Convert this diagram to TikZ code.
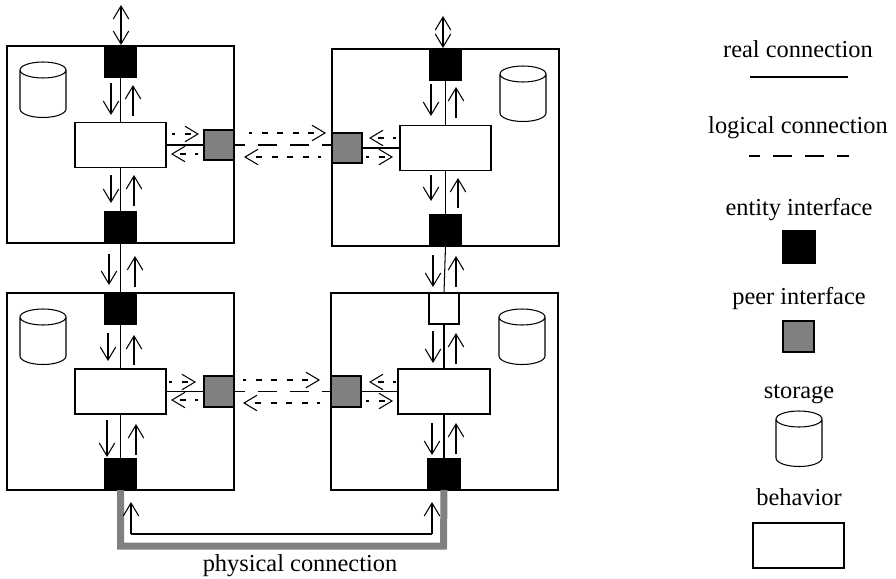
\documentclass[tikz,border=0pt]{standalone}
\usepackage{fontspec}
\setmainfont{Liberation Serif}
\usetikzlibrary{arrows.meta}
\tikzset{
  x=1pt,y=-1pt,
  real/.style={line width=1.05pt,draw=black},
  logical/.style={line width=1.05pt,draw=black,dash pattern=on 19pt off 13pt,dash phase=8pt},
  tipV/.tip={Straight Barb[length=13pt,width=15.5pt,line width=1.05pt]},
  sig/.style={line width=1.05pt,-tipV},
  dsig/.style={line width=1.05pt,tipV-tipV},
  psig/.style={line width=1.05pt,-tipV,dash pattern=on 6pt off 9.5pt,dash phase=3pt},
  boxbase/.style={rectangle,inner sep=0pt,outer sep=0pt,line width=1.05pt,draw=black},
  entitybox/.style={boxbase,fill=black},
  peerbox/.style={boxbase,fill=gray},
  whitebox/.style={boxbase,fill=white},
  framebox/.style={boxbase,fill=white},
  phys/.style={line width=7pt,draw=gray,line join=miter},
  lbl/.style={font=\fontsize{24.4pt}{28pt}\selectfont,inner sep=0pt,anchor=base},
}
% name, x1, y1, x2, y2, style
\newcommand{\bx}[6]{%
  \pgfmathsetmacro{\bxw}{#4-#2}\pgfmathsetmacro{\bxh}{#5-#3}%
  \pgfmathsetmacro{\bxcx}{(#2+#4)/2}\pgfmathsetmacro{\bxcy}{(#3+#5)/2}%
  \node[#6,minimum width=\bxw pt,minimum height=\bxh pt] (#1) at (\bxcx,\bxcy) {};}
% name, x1, y1, x2, y2, style
\newcommand{\arw}[6]{%
  \coordinate (#1s) at (#2,#3);\coordinate (#1e) at (#4,#5);
  \draw[#6] (#1s) -- (#1e);}
% storage: left x, top y of ellipse
\newcommand{\stor}[2]{%
  \pgfmathsetmacro{\sr}{#1+46}\pgfmathsetmacro{\sc}{#2+8}\pgfmathsetmacro{\sb}{#2+47}%
  \draw[line width=1.05pt] (#1,\sc) arc[start angle=180,end angle=-180,x radius=23pt,y radius=8pt]
    (#1,\sc) -- (#1,\sb) arc[start angle=180,end angle=360,x radius=23pt,y radius=8.5pt] -- (\sr,\sc);}
\begin{document}
\begin{tikzpicture}
\useasboundingbox (0,0) rectangle (896,578);
% entity frames
\bx{tlf}{7}{46}{234}{243}{framebox}
\bx{trf}{332}{49}{559}{246}{framebox}
\bx{blf}{7}{293}{234}{490}{framebox}
\bx{brf}{331}{293}{558}{490}{framebox}
% storage
\stor{20}{62}\stor{500}{66}\stor{20}{309}\stor{499}{309}
% interfaces and behaviours
\bx{tle1}{105}{46}{136}{77}{entitybox}
\bx{tle2}{105}{212}{136}{243}{entitybox}
\bx{tlb}{75}{122.5}{166}{167.5}{whitebox}
\bx{tlp}{204}{130}{234}{160}{peerbox}
\bx{tre1}{430}{49}{461}{80}{entitybox}
\bx{tre2}{430}{215}{461}{246}{entitybox}
\bx{trb}{400}{125.5}{491}{170.5}{whitebox}
\bx{trp}{332}{133}{362}{163}{peerbox}
\bx{ble1}{105}{293}{136}{324}{entitybox}
\bx{ble2}{105}{459}{136}{490}{entitybox}
\bx{blb}{75}{369}{166}{414}{whitebox}
\bx{blp}{204}{376}{234}{407}{peerbox}
\bx{bri}{429}{293}{459}{324}{whitebox}
\bx{bre2}{428}{459}{460}{490}{entitybox}
\bx{brb}{398}{369}{490}{414}{whitebox}
\bx{brp}{331}{376}{361}{407}{peerbox}
% real connections
\draw[real] (tle1.south) -- (tlb.north);
\draw[real] (tlb.south) -- (tle2.north);
\draw[real] (tlb.east) -- (tlp.west);
\draw[real] (tre1.south) -- (trb.north);
\draw[real] (trb.south) -- (tre2.north);
\draw[real] (trb.west) -- (trp.east);
\draw[real] (ble1.south) -- (blb.north);
\draw[real] (blb.south) -- (ble2.north);
\draw[real] (blb.east) -- (blp.west);
\draw[real] (bri.south) -- (brb.north);
\draw[real] (brb.south) -- (bre2.north);
\draw[real] (brb.west) -- (brp.east);
\draw[real] (tle2.south) -- (ble1.north);
\draw[real] (tre2.south) -- (bri.north);
% logical connections
\draw[logical] (tlp.east) -- (trp.west |- tlp.east);
\draw[logical] (blp.east) -- (brp.west);
% physical connection
\coordinate (pl) at (120.5,546);\coordinate (pr) at (443.5,546);
\draw[phys] (ble2.south) -- (pl) -- (pr) -- (bre2.south);
\arw{pa}{131}{534}{131}{502}{sig}
\arw{pb}{432}{534}{432}{502}{sig}
\draw[line width=1.05pt] (pas) -- (pbs);
% double arrows on top
\arw{d1}{121}{5}{121}{45}{dsig}
\arw{d2}{443}{16}{443}{48}{dsig}
% signal arrows: top left
\arw{a1}{111}{83}{111}{115}{sig}
\arw{a2}{133}{116}{133}{85}{sig}
\arw{a3}{111}{175}{111}{203}{sig}
\arw{a4}{134}{206}{134}{175}{sig}
\arw{a5}{109}{254}{109}{285}{sig}
\arw{a6}{135}{287}{135}{256}{sig}
% top right
\arw{b1}{431}{84}{431}{116}{sig}
\arw{b2}{456}{118}{456}{87}{sig}
\arw{b3}{431}{175}{431}{201}{sig}
\arw{b4}{458}{208}{458}{178}{sig}
\arw{b5}{433}{255}{433}{287}{sig}
\arw{b6}{456}{287}{456}{256}{sig}
% bottom left
\arw{c1}{108}{333}{108}{361}{sig}
\arw{c2}{134}{365}{134}{335}{sig}
\arw{c3}{107}{420}{107}{457}{sig}
\arw{c4}{136}{455}{136}{424}{sig}
% bottom right
\arw{e1}{433}{331}{433}{363}{sig}
\arw{e2}{456}{364}{456}{333}{sig}
\arw{e3}{432}{423}{432}{455}{sig}
\arw{e4}{456}{454}{456}{423}{sig}
% peer traffic
\arw{f1}{172}{134}{199}{134}{psig}
\arw{f2}{198}{154}{171}{154}{psig}
\arw{f3}{249}{133}{326}{133}{psig}
\arw{f4}{321}{157}{244}{157}{psig}
\arw{f5}{396}{138}{369}{138}{psig}
\arw{f6}{366}{157}{393}{157}{psig}
\arw{g1}{169}{382}{196}{382}{psig}
\arw{g2}{198}{400}{171}{400}{psig}
\arw{g3}{243}{380}{320}{380}{psig}
\arw{g4}{320}{403}{243}{403}{psig}
\arw{g5}{396}{382}{369}{382}{psig}
\arw{g6}{366}{401}{393}{401}{psig}
% labels
\node[lbl] (phl) at (300,571.5) {physical connection};
\node[lbl] (l1) at (798,58) {real connection};
\coordinate (l1a) at (750,77);\coordinate (l1b) at (848,77);
\draw[real] (l1a) -- (l1b);
\node[lbl] (l2) at (798,133) {logical connection};
\coordinate (l2a) at (749,156);\coordinate (l2b) at (849,156);
\draw[logical] (l2a) -- (l2b);
\node[lbl] (l3) at (799,215) {entity interface};
\bx{le}{783}{231}{815}{263}{entitybox}
\node[lbl] (l4) at (799,304) {peer interface};
\bx{lp}{783}{321}{814}{352}{peerbox}
\node[lbl] (l5) at (799,398) {storage};
\stor{776}{411}
\node[lbl] (l6) at (799,505) {behavior};
\bx{lb}{753}{523}{844}{568}{whitebox}
\end{tikzpicture}
\end{document}
